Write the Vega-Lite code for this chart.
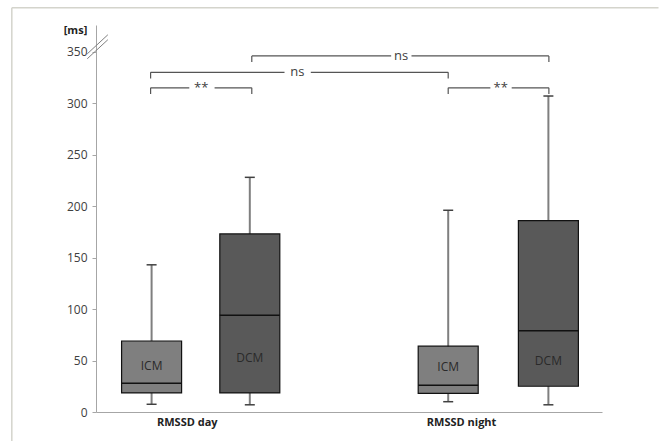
{
  "$schema": "https://vega.github.io/schema/vega-lite/v6.json",
  "autosize": "none",
  "width": 506,
  "height": 387,
  "padding": {"left": 96, "top": 25, "right": 63, "bottom": 29},
  "background": "white",
  "config": {"view": {"stroke": null}, "font": "Open Sans"},
  "datasets": {
    "boxes": [
      {"group": "ICM", "period": "day", "pos": 10.2, "min": 7.5, "q1": 18.5, "med": 28, "q3": 69, "max": 143, "labelY": 45},
      {"group": "DCM", "period": "day", "pos": 30, "min": 7, "q1": 18.5, "med": 94, "q3": 173, "max": 228, "labelY": 52.5},
      {"group": "ICM", "period": "night", "pos": 70, "min": 10, "q1": 18, "med": 26, "q3": 64, "max": 196, "labelY": 44},
      {"group": "DCM", "period": "night", "pos": 90.2, "min": 7, "q1": 25, "med": 79, "q3": 186, "max": 307, "labelY": 50}
    ],
    "brackets": [
      {"x": 10, "x2": 10, "y": 309, "y2": 315},
      {"x": 10, "x2": 17.8, "y": 315, "y2": 315},
      {"x": 22.9, "x2": 30.4, "y": 315, "y2": 315},
      {"x": 30.4, "x2": 30.4, "y": 309, "y2": 315},
      {"x": 70, "x2": 70, "y": 309, "y2": 315},
      {"x": 70, "x2": 78.5, "y": 315, "y2": 315},
      {"x": 82.8, "x2": 90.3, "y": 315, "y2": 315},
      {"x": 90.3, "x2": 90.3, "y": 309, "y2": 315},
      {"x": 10, "x2": 10, "y": 324, "y2": 330},
      {"x": 10, "x2": 37, "y": 330, "y2": 330},
      {"x": 42.3, "x2": 70, "y": 330, "y2": 330},
      {"x": 70, "x2": 70, "y": 324, "y2": 330},
      {"x": 30.4, "x2": 30.4, "y": 340, "y2": 346},
      {"x": 30.4, "x2": 58.5, "y": 346, "y2": 346},
      {"x": 62.6, "x2": 90.3, "y": 346, "y2": 346},
      {"x": 90.3, "x2": 90.3, "y": 340, "y2": 346}
    ],
    "sig": [
      {"x": 20.2, "y": 315, "label": "**"},
      {"x": 80.6, "y": 315, "label": "**"},
      {"x": 39.6, "y": 330, "label": "ns"},
      {"x": 60.5, "y": 346, "label": "ns"}
    ],
    "cats": [
      {"x": 17.4, "y": -10.7, "label": "RMSSD day"},
      {"x": 72.7, "y": -10.7, "label": "RMSSD night"}
    ],
    "breaks": [
      {"x": -2.77, "x2": 1.38, "y": 348, "y2": 366.5},
      {"x": -2.77, "x2": 1.38, "y": 343.2, "y2": 361.7}
    ],
    "frame": [
      {"x": -17.98, "x2": 112.4, "y": 392.8, "y2": 392.8},
      {"x": -17.98, "x2": -17.98, "y": 392.8, "y2": -28.2}
    ]
  },
  "layer": [
    {
      "data": {"name": "frame"},
      "mark": {"type": "rule", "color": "#d4d4cc", "strokeWidth": 1.5, "clip": false},
      "encoding": {
        "x": {"field": "x", "type": "quantitative", "scale": {"domain": [0, 100], "nice": false, "zero": false}, "axis": {"labels": false, "ticks": false, "grid": false, "title": null, "domainColor": "#a6a6a6", "domainWidth": 1}},
        "x2": {"field": "x2"},
        "y": {"field": "y", "type": "quantitative", "scale": {"domain": [0, 376], "nice": false, "zero": true},
          "axis": {"values": [0, 50, 100, 150, 200, 250, 300, 350], "grid": false, "domainColor": "#a6a6a6", "tickColor": "#a6a6a6", "tickSize": 4, "labelPadding": 5, "labelColor": "#404040", "labelFontSize": 12, "title": "[ms]", "titleAngle": 0, "titleX": -21, "titleY": 5, "titleAlign": "center", "titleBaseline": "middle", "titleFontSize": 11, "titleFontWeight": "bold", "titleColor": "#222222"}},
        "y2": {"field": "y2"}
      }
    },
    {
      "data": {"name": "breaks"},
      "mark": {"type": "rule", "color": "#808080", "strokeWidth": 1},
      "encoding": {
        "x": {"field": "x", "type": "quantitative"},
        "x2": {"field": "x2"},
        "y": {"field": "y", "type": "quantitative"},
        "y2": {"field": "y2"}
      }
    },
    {
      "data": {"name": "boxes"},
      "mark": {"type": "rule", "color": "#7f7f7f", "strokeWidth": 2},
      "encoding": {
        "x": {"field": "pos", "type": "quantitative"},
        "y": {"field": "min", "type": "quantitative"},
        "y2": {"field": "max"}
      }
    },
    {
      "data": {"name": "boxes"},
      "mark": {"type": "tick", "orient": "horizontal", "size": 10, "thickness": 1.5, "color": "#404040", "opacity": 1},
      "encoding": {
        "x": {"field": "pos", "type": "quantitative"},
        "y": {"field": "min", "type": "quantitative"}
      }
    },
    {
      "data": {"name": "boxes"},
      "mark": {"type": "tick", "orient": "horizontal", "size": 10, "thickness": 1.5, "color": "#404040", "opacity": 1},
      "encoding": {
        "x": {"field": "pos", "type": "quantitative"},
        "y": {"field": "max", "type": "quantitative"}
      }
    },
    {
      "data": {"name": "boxes"},
      "mark": {"type": "bar", "width": 60, "stroke": "#111111", "strokeWidth": 1.2, "opacity": 1},
      "encoding": {
        "x": {"field": "pos", "type": "quantitative"},
        "y": {"field": "q1", "type": "quantitative"},
        "y2": {"field": "q3"},
        "color": {"field": "group", "type": "nominal", "scale": {"domain": ["ICM", "DCM"], "range": ["#7f7f7f", "#595959"]}, "legend": null}
      }
    },
    {
      "data": {"name": "boxes"},
      "mark": {"type": "tick", "orient": "horizontal", "size": 60, "thickness": 1.5, "color": "#111111", "opacity": 1},
      "encoding": {
        "x": {"field": "pos", "type": "quantitative"},
        "y": {"field": "med", "type": "quantitative"}
      }
    },
    {
      "data": {"name": "boxes"},
      "mark": {"type": "text", "fontSize": 12, "color": "#2a2a2a", "baseline": "middle", "align": "center"},
      "encoding": {
        "x": {"field": "pos", "type": "quantitative"},
        "y": {"field": "labelY", "type": "quantitative"},
        "text": {"field": "group"}
      }
    },
    {
      "data": {"name": "brackets"},
      "mark": {"type": "rule", "color": "#555555", "strokeWidth": 1.2},
      "encoding": {
        "x": {"field": "x", "type": "quantitative"},
        "x2": {"field": "x2"},
        "y": {"field": "y", "type": "quantitative"},
        "y2": {"field": "y2"}
      }
    },
    {
      "data": {"name": "sig"},
      "mark": {"type": "text", "fontSize": 13, "color": "#404040", "baseline": "middle", "align": "center"},
      "encoding": {
        "x": {"field": "x", "type": "quantitative"},
        "y": {"field": "y", "type": "quantitative"},
        "text": {"field": "label"}
      }
    },
    {
      "data": {"name": "cats"},
      "mark": {"type": "text", "fontSize": 11, "fontWeight": "bold", "color": "#222222", "baseline": "middle", "align": "center"},
      "encoding": {
        "x": {"field": "x", "type": "quantitative"},
        "y": {"field": "y", "type": "quantitative"},
        "text": {"field": "label"}
      }
    }
  ]
}
